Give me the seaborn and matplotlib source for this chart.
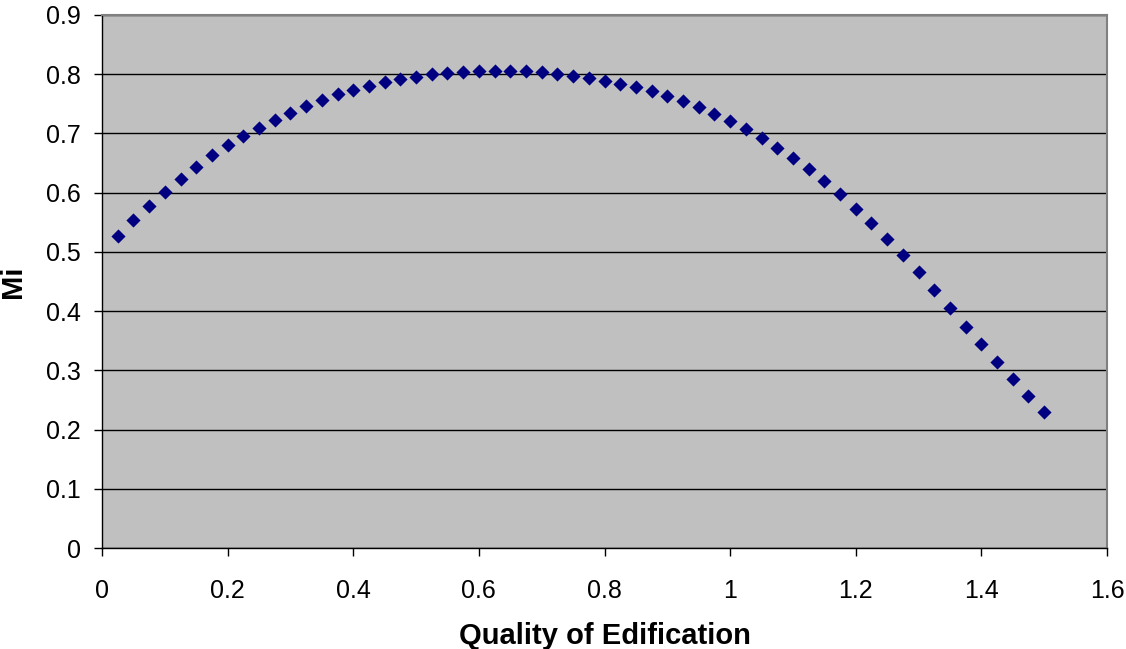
import matplotlib
matplotlib.use("Agg")
import matplotlib.pyplot as plt
import seaborn as sns
import pandas as pd

quality = [0.025, 0.05, 0.075, 0.1, 0.125, 0.15, 0.175, 0.2, 0.225, 0.25,
           0.275, 0.3, 0.325, 0.35, 0.375, 0.4, 0.425, 0.45, 0.475, 0.5,
           0.525, 0.55, 0.575, 0.6, 0.625, 0.65, 0.675, 0.7, 0.725, 0.75,
           0.775, 0.8, 0.825, 0.85, 0.875, 0.9, 0.925, 0.95, 0.975, 1.0,
           1.025, 1.05, 1.075, 1.1, 1.125, 1.15, 1.175, 1.2, 1.225, 1.25,
           1.275, 1.3, 1.325, 1.35, 1.375, 1.4, 1.425, 1.45, 1.475, 1.5]
mi = [0.527, 0.554, 0.578, 0.601, 0.623, 0.644, 0.663, 0.680, 0.696, 0.710,
      0.723, 0.735, 0.747, 0.757, 0.766, 0.774, 0.780, 0.787, 0.792, 0.796,
      0.800, 0.802, 0.804, 0.805, 0.805, 0.805, 0.805, 0.803, 0.801, 0.797,
      0.794, 0.789, 0.784, 0.778, 0.772, 0.764, 0.755, 0.744, 0.733, 0.721,
      0.707, 0.693, 0.676, 0.659, 0.640, 0.619, 0.597, 0.573, 0.548, 0.521,
      0.494, 0.466, 0.436, 0.406, 0.374, 0.345, 0.314, 0.285, 0.256, 0.230]

x_ticks = [0, 0.2, 0.4, 0.6, 0.8, 1.0, 1.2, 1.4, 1.6]
x_tick_labels = ["0", "0.2", "0.4", "0.6", "0.8", "1", "1.2", "1.4", "1.6"]
y_ticks = [0, 0.1, 0.2, 0.3, 0.4, 0.5, 0.6, 0.7, 0.8, 0.9]
y_tick_labels = ["0", "0.1", "0.2", "0.3", "0.4", "0.5", "0.6", "0.7", "0.8", "0.9"]

sns.set_style("white")
plt.rcParams['font.family'] = ['Liberation Sans', 'DejaVu Sans']
plt.rcParams['text.color'] = 'black'
plt.rcParams['axes.labelcolor'] = 'black'
plt.rcParams['xtick.color'] = 'black'
plt.rcParams['ytick.color'] = 'black'

df = pd.DataFrame({"Quality of Edification": quality, "Mi": mi})

fig = plt.figure(figsize=(11.26, 6.49), dpi=100)
ax = fig.add_axes([102 / 1126, 1 - 548 / 649, (1107 - 102) / 1126, (548 - 15) / 649])
ax.set_facecolor("#C0C0C0")

sns.scatterplot(data=df, x="Quality of Edification", y="Mi", marker="D",
                color="#000080", s=52, linewidth=0, ax=ax, zorder=3)

ax.set_xlim(0, 1.6)
ax.set_ylim(0, 0.9)
ax.set_xticks(x_ticks)
ax.set_xticklabels(x_tick_labels)
ax.set_yticks(y_ticks)
ax.set_yticklabels(y_tick_labels)

ax.yaxis.grid(True, color="black", linewidth=1.0)
ax.xaxis.grid(False)
ax.set_axisbelow(True)

for side in ["left", "bottom"]:
    ax.spines[side].set_color("black")
    ax.spines[side].set_linewidth(1.0)
for side in ["top", "right"]:
    ax.spines[side].set_visible(True)
    ax.spines[side].set_color("#808080")
    ax.spines[side].set_linewidth(1.5)

ax.tick_params(axis="both", which="major", direction="out", length=6, width=1,
               color="black", labelcolor="black", labelsize=18,
               bottom=True, left=True, top=False, right=False)
ax.tick_params(axis="x", pad=16.5)
ax.tick_params(axis="y", pad=9)

ax.set_xlabel("Quality of Edification", fontsize=21, fontweight="bold", color="black")
ax.set_ylabel("Mi", fontsize=21, fontweight="bold", color="black")
ax.xaxis.set_label_coords(0.5, -0.138)
ax.yaxis.set_label_coords(-0.075, 0.5)

fig.savefig("out.png", dpi=100, facecolor="white")
